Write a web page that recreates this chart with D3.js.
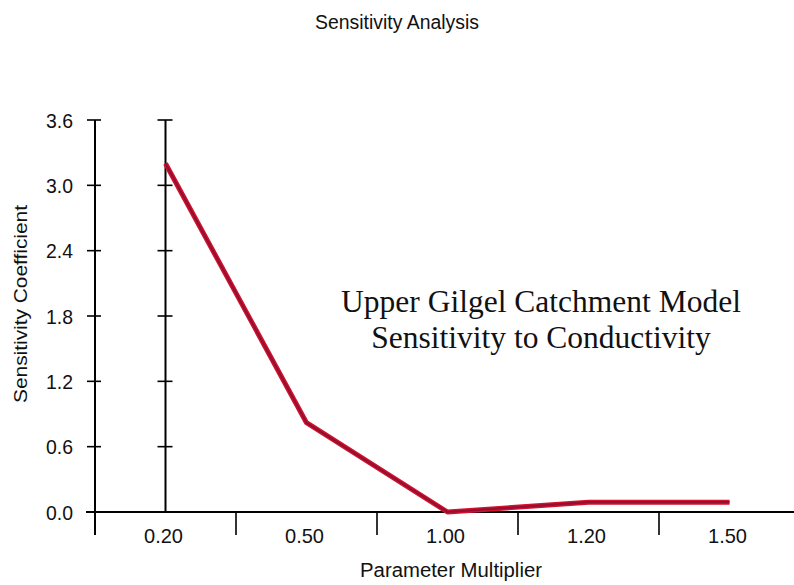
<!DOCTYPE html>
<html>
<head>
<meta charset="utf-8">
<script src="https://cdn.jsdelivr.net/npm/d3@7/dist/d3.min.js"></script>
<style>
  html, body { margin: 0; padding: 0; background: #ffffff; }
  svg { display: block; }
  text { font-family: "Liberation Sans", Arial, sans-serif; fill: #111; }
</style>
</head>
<body>
<svg id="chart" width="794" height="585"></svg>
<script>
// Sensitivity of the Upper Gilgel catchment model to conductivity
const multipliers = ["0.20", "0.50", "1.00", "1.20", "1.50"];
const coefficients = [3.2, 0.82, 0.0, 0.09, 0.09];
const yTicks = [0.0, 0.6, 1.2, 1.8, 2.4, 3.0, 3.6];
const chartTitle = "Sensitivity Analysis";
const xTitle = "Parameter Multiplier";
const yTitle = "Sensitivity Coefficient";
const noteLines = ["Upper Gilgel Catchment Model", "Sensitivity to Conductivity"];

const svg = d3.select("#chart");

const x = d3.scaleBand().domain(multipliers).range([95, 800]).padding(0);
const y = d3.scaleLinear().domain([0, 3.6]).range([512, 120]);

// Title
svg.append("text")
  .attr("x", 397).attr("y", 29)
  .attr("text-anchor", "middle")
  .attr("font-size", 20)
  .attr("textLength", 164).attr("lengthAdjust", "spacingAndGlyphs")
  .text(chartTitle);

// Left value axis
const yAxis = svg.append("g");
yAxis.append("line")
  .attr("x1", 95).attr("x2", 95)
  .attr("y1", y(3.6)).attr("y2", 535)
  .attr("stroke", "#000").attr("stroke-width", 2);
yAxis.selectAll("line.tick").data(yTicks).join("line")
  .attr("class", "tick")
  .attr("x1", 87).attr("x2", 101)
  .attr("y1", d => y(d)).attr("y2", d => y(d))
  .attr("stroke", "#000").attr("stroke-width", 1.6);
yAxis.selectAll("text").data(yTicks).join("text")
  .attr("x", 73).attr("y", d => y(d))
  .attr("dy", "0.36em")
  .attr("text-anchor", "end")
  .attr("font-size", 21)
  .attr("textLength", 27).attr("lengthAdjust", "spacingAndGlyphs")
  .text(d => d.toFixed(1));

// Vertical reference line at the first multiplier, ticked like the value axis
const refX = x.bandwidth() / 2 + x(multipliers[0]);
const refAxis = svg.append("g");
refAxis.append("line")
  .attr("x1", refX).attr("x2", refX)
  .attr("y1", y(3.6)).attr("y2", y(0))
  .attr("stroke", "#000").attr("stroke-width", 2);
refAxis.selectAll("line.tick").data(yTicks).join("line")
  .attr("class", "tick")
  .attr("x1", refX - 8).attr("x2", refX + 7)
  .attr("y1", d => y(d)).attr("y2", d => y(d))
  .attr("stroke", "#000").attr("stroke-width", 1.6);

// Category axis
const xAxis = svg.append("g");
xAxis.append("line")
  .attr("x1", 86).attr("x2", 794)
  .attr("y1", y(0)).attr("y2", y(0))
  .attr("stroke", "#000").attr("stroke-width", 2);
xAxis.selectAll("line.tick").data(multipliers.slice(1)).join("line")
  .attr("class", "tick")
  .attr("x1", d => x(d)).attr("x2", d => x(d))
  .attr("y1", y(0)).attr("y2", 535)
  .attr("stroke", "#000").attr("stroke-width", 1.6);
xAxis.selectAll("text").data(multipliers).join("text")
  .attr("x", d => x(d) + x.bandwidth() / 2 - 2)
  .attr("y", 543)
  .attr("text-anchor", "middle")
  .attr("font-size", 21)
  .attr("textLength", 39).attr("lengthAdjust", "spacingAndGlyphs")
  .text(d => d);

// Axis titles
svg.append("text")
  .attr("x", 451).attr("y", 577)
  .attr("text-anchor", "middle")
  .attr("font-size", 20)
  .attr("textLength", 182).attr("lengthAdjust", "spacingAndGlyphs")
  .text(xTitle);
svg.append("text")
  .attr("transform", "translate(27,304) rotate(-90)")
  .attr("text-anchor", "middle")
  .attr("font-size", 19)
  .attr("textLength", 198).attr("lengthAdjust", "spacingAndGlyphs")
  .text(yTitle);

// Series line
const line = d3.line()
  .x((d, i) => x(multipliers[i]) + x.bandwidth() / 2)
  .y(d => y(d));
svg.append("path")
  .datum(coefficients)
  .attr("d", line)
  .attr("fill", "none")
  .attr("stroke", "#d0122e")
  .attr("stroke-width", 5)
  .attr("stroke-linejoin", "round");
svg.append("path")
  .datum(coefficients)
  .attr("d", line)
  .attr("fill", "none")
  .attr("stroke", "#960f30")
  .attr("stroke-width", 2.2)
  .attr("stroke-linejoin", "round");

// Annotation
const note = svg.append("text")
  .attr("text-anchor", "middle")
  .attr("font-size", 31.5)
  .style("font-family", "'Liberation Serif', 'Times New Roman', serif");
noteLines.forEach((t, i) => {
  note.append("tspan")
    .attr("x", 541)
    .attr("y", 312 + i * 36)
    .text(t);
});
</script>
</body>
</html>
